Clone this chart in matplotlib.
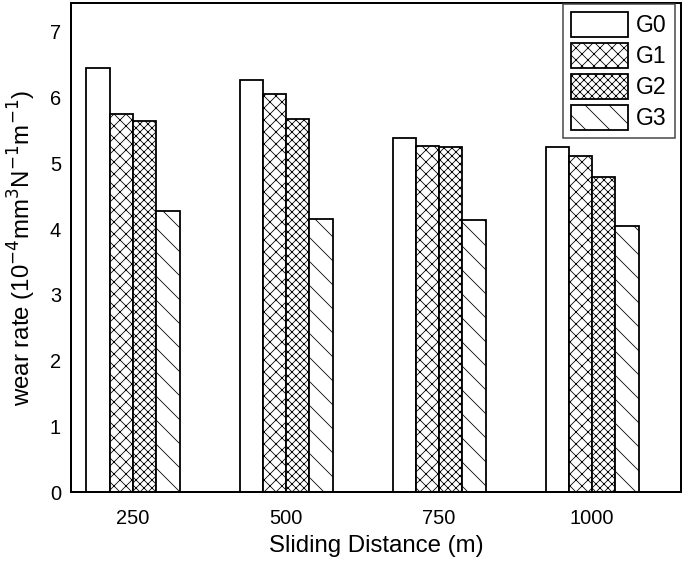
import numpy as np
import matplotlib
matplotlib.use('Agg')
import matplotlib.pyplot as plt

plt.rcParams['font.family'] = ['Liberation Sans', 'DejaVu Sans']
plt.rcParams['hatch.linewidth'] = 0.8

distances = ['250', '500', '750', '1000']
groups = ['G0', 'G1', 'G2', 'G3']
g0 = [6.45, 6.27, 5.38, 5.25]
g1 = [5.75, 6.06, 5.27, 5.11]
g2 = [5.65, 5.68, 5.25, 4.79]
g3 = [4.27, 4.16, 4.14, 4.05]
hatches = ['', 'xx', 'xxx', '\\']

fig = plt.figure(figsize=(685 / 72, 571 / 72), dpi=72)
ax = fig.add_axes([71 / 685, 79 / 571, 610 / 685, 489 / 571])

x = np.arange(len(distances))
w = 0.152
for i, (name, vals) in enumerate(zip(groups, [g0, g1, g2, g3])):
    ax.bar(x + (i - 1.5) * w, vals, w, color='white', edgecolor='black',
           linewidth=1.8, hatch=hatches[i], label=name)

ax.set_xlim(-0.405, 3.58)
ax.set_ylim(0, 7.44)
ax.set_yticks(range(8))
ax.set_xticks(x)
ax.set_xticklabels(distances)
ax.tick_params(axis='both', length=0, labelsize=20)
ax.tick_params(axis='x', pad=17)
ax.tick_params(axis='y', pad=10)
for s in ax.spines.values():
    s.set_linewidth(2)

ax.set_xlabel('Sliding Distance (m)', fontsize=24, labelpad=7)
ax.set_ylabel(r'wear rate (10$^{-4}$mm$^{3}$N$^{-1}$m$^{-1}$)', fontsize=24, labelpad=12)

leg = ax.legend(loc='upper right', bbox_to_anchor=(0.99, 0.998), borderaxespad=0,
                fontsize=23, fancybox=False, framealpha=1, edgecolor='#444444',
                handlelength=2.5, handleheight=1.3, labelspacing=0.25,
                handletextpad=0.35, borderpad=0.35)
leg.get_frame().set_linewidth(1.5)

fig.savefig('out.png', dpi=72)
